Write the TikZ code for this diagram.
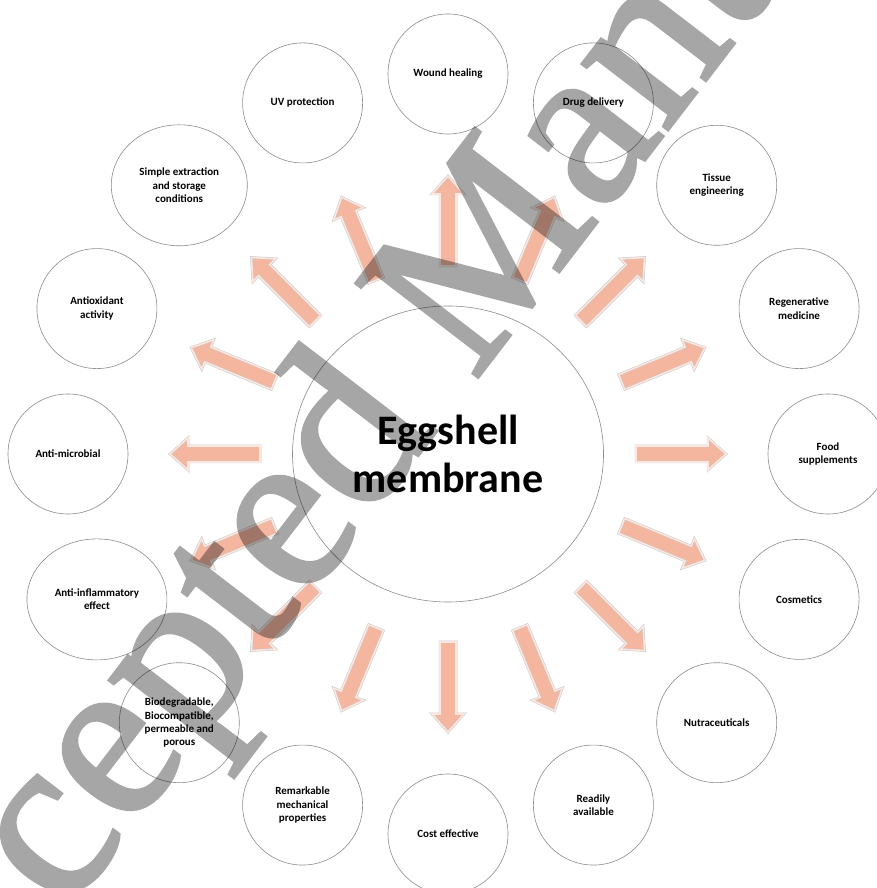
\documentclass[tikz,border=0pt]{standalone}
\usepackage{fontspec}
\setmainfont{Carlito}
\newfontfamily\wmfont[FakeBold=1.5]{Liberation Serif}
\usetikzlibrary{shapes.geometric}
\definecolor{arrowfill}{RGB}{245,182,160}
\definecolor{arrowrim}{RGB}{252,230,222}
\definecolor{ringgray}{RGB}{140,140,140}
\begin{document}
\begin{tikzpicture}[x=1pt,y=1pt,
  bubble/.style={circle, draw=ringgray, line width=0.6pt, minimum size=120pt, inner sep=0pt,
    align=center, font=\bfseries\fontsize{11}{13.3}\selectfont},
  wideb/.style={ellipse, draw=ringgray, line width=0.6pt, minimum height=121pt, inner sep=0pt,
    align=center, font=\bfseries\fontsize{11}{13.3}\selectfont},
  blockarrow/.style={fill=arrowfill, draw=gray!45, line width=0.45pt, double=arrowrim,
    double distance=1.6pt, line join=miter},
  corebox/.style={ellipse, draw=ringgray, line width=0.6pt, minimum width=311pt, minimum height=296pt,
    inner sep=0pt, align=center, font=\bfseries\fontsize{42}{48}\selectfont}]
\useasboundingbox (0,0) rectangle (877,888);
\begin{scope}
\clip (0,0) rectangle (877,888);
\fill[white] (0,0) rectangle (877,888);
% block arrows
\foreach \a in {0,22.5,...,337.5} {
  \begin{scope}[shift={(448,434)}, rotate=\a]
    \path[blockarrow] (188,-8) -- (260,-8) -- (260,-16) -- (278,0) -- (260,16) -- (260,8) -- (188,8) -- cycle;
  \end{scope}
}
% central circle
\node[corebox] (core) at (448,434) {Eggshell\\membrane};
% outer circles
\node[bubble] (wound)  at ([shift={(448,434)}]90:380)    {Wound healing};
\node[bubble] (uv)     at ([shift={(448,434)}]112.5:380) {UV protection};
\node[wideb, minimum width=136pt] (simple) at ([shift={(448,434)}]135:380) {Simple extraction\\and storage\\conditions};
\node[bubble] (antiox) at ([shift={(448,434)}]157.5:380) {Antioxidant\\activity};
\node[bubble] (micro)  at ([shift={(448,434)}]180:380)   {Anti-microbial};
\node[wideb, minimum width=140pt] (inflam) at ([shift={(448,434)}]202.5:380) {Anti-inflammatory\\effect};
\node[bubble] (biodeg) at ([shift={(448,434)}]225:380)   {Biodegradable,\\Biocompatible,\\permeable and\\porous};
\node[bubble] (mech)   at ([shift={(448,434)}]247.5:380) {Remarkable\\mechanical\\properties};
\node[bubble] (cost)   at ([shift={(448,434)}]270:380)   {Cost effective};
\node[bubble] (ready)  at ([shift={(448,434)}]292.5:380) {Readily\\available};
\node[bubble] (nutra)  at ([shift={(448,434)}]315:380)   {Nutraceuticals};
\node[bubble] (cosm)   at ([shift={(448,434)}]337.5:380) {Cosmetics};
\node[bubble] (food)   at ([shift={(448,434)}]0:380)     {Food\\supplements};
\node[bubble] (regen)  at ([shift={(448,434)}]22.5:380)  {Regenerative\\medicine};
\node[bubble] (tissue) at ([shift={(448,434)}]45:380)    {Tissue\\engineering};
\node[bubble] (drug)   at ([shift={(448,434)}]67.5:380)  {Drug delivery};
% watermark
\begin{scope}[transparency group, opacity=0.35]
\node[rotate=52.5, anchor=base west, inner sep=0pt, text=black,
  font=\wmfont\fontsize{235}{235}\selectfont] (wm) at (-102,-245) {Accepted Manuscript};
\end{scope}
\end{scope}
\end{tikzpicture}
\end{document}
